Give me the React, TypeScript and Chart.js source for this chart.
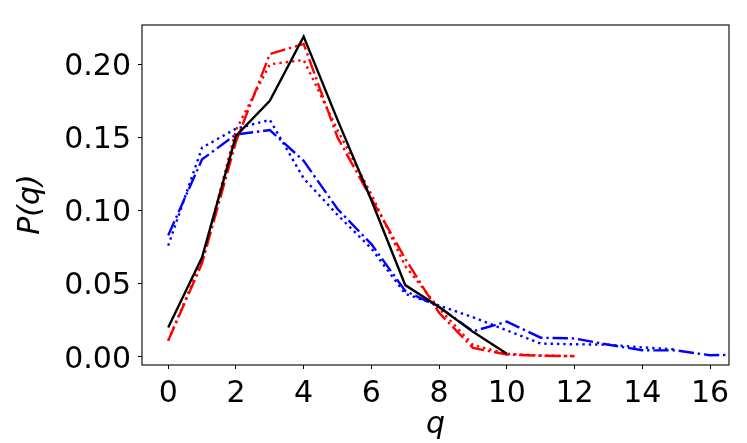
import React, { useEffect, useRef } from "react";
import { Chart, registerables } from "chart.js";

Chart.register(...registerables);

// q positions (integer counts)
const qAxis = [0, 1, 2, 3, 4, 5, 6, 7, 8, 9, 10, 11, 12, 13, 14, 15, 16, 17];

// P(q) series
const blackSolid = [0.020, 0.068, 0.151, 0.175, 0.219, 0.162, 0.107, 0.049, 0.034, 0.017, 0.002];
const redDashDot = [0.011, 0.064, 0.147, 0.207, 0.214, 0.150, 0.108, 0.067, 0.030, 0.006, 0.0015, 0.0007, 0.0004];
const redDotted = [0.011, 0.066, 0.155, 0.200, 0.203, 0.155, 0.111, 0.062, 0.033, 0.008, 0.002, 0.0008, 0.0004];
const blueDotted = [0.076, 0.143, 0.156, 0.162, 0.122, 0.097, 0.074, 0.043, 0.035, 0.027, 0.018, 0.009, 0.0085, 0.0082, 0.0064, 0.005];
const blueDashDot = [0.083, 0.135, 0.152, 0.155, 0.134, 0.101, 0.077, 0.045, 0.034, 0.0174, 0.024, 0.013, 0.0125, 0.0082, 0.0044, 0.0043, 0.001, 0.0015];

// tick labels
const xTickValues = [0, 2, 4, 6, 8, 10, 12, 14, 16];
const yTickValues = [0, 0.05, 0.1, 0.15, 0.2];

const xTitle = "q";
const yTitle = "P(q)";

const FONT = "'DejaVu Sans', 'Liberation Sans', sans-serif";

const toPoints = (ys: number[]) => ys.map((y, i) => ({ x: qAxis[i], y }));

const frame = {
  id: "frame",
  afterDraw(chart: any) {
    const { ctx, chartArea } = chart;
    ctx.save();
    ctx.strokeStyle = "#000";
    ctx.lineWidth = 1.1;
    ctx.strokeRect(chartArea.left, chartArea.top, chartArea.right - chartArea.left, chartArea.bottom - chartArea.top);
    ctx.restore();
  },
};

export default function App() {
  const ref = useRef<HTMLCanvasElement | null>(null);

  useEffect(() => {
    if (!ref.current) return;
    const LW = 2.4;
    const DASHDOT = [6.4 * LW, 1.6 * LW, 1 * LW, 1.6 * LW];
    const DOTTED = [1 * LW, 1.65 * LW];
    const common = { pointRadius: 0, borderWidth: LW, tension: 0, fill: false };
    const chart = new Chart(ref.current, {
      type: "line",
      data: {
        datasets: [
          { ...common, data: toPoints(blackSolid), borderColor: "#000000" },
          { ...common, data: toPoints(redDashDot), borderColor: "#ff0000", borderDash: DASHDOT },
          { ...common, data: toPoints(redDotted), borderColor: "#ff0000", borderDash: DOTTED },
          { ...common, data: toPoints(blueDotted), borderColor: "#0000ff", borderDash: DOTTED },
          { ...common, data: toPoints(blueDashDot), borderColor: "#0000ff", borderDash: DASHDOT },
        ],
      },
      options: {
        animation: false,
        responsive: false,
        devicePixelRatio: 1,
        layout: { padding: { left: 0, right: 18, top: 12, bottom: 0 } },
        plugins: { legend: { display: false }, tooltip: { enabled: false } },
        scales: {
          x: {
            type: "linear",
            min: -0.774,
            max: 16.56,
            afterBuildTicks: (s: any) => {
              s.ticks = xTickValues.map((v) => ({ value: v }));
            },
            afterFit: (s: any) => {
              s.height = 78;
            },
            ticks: {
              font: { family: FONT, size: 30 },
              color: "#000",
              padding: 7,
              maxRotation: 0,
              autoSkip: false,
              callback: (v: any) => String(v),
            },
            grid: { display: true, drawOnChartArea: false, drawTicks: true, tickLength: 4, color: "#000", lineWidth: 1 },
            border: { display: false },
            title: {
              display: true,
              text: xTitle,
              color: "#000",
              font: { family: FONT, size: 30, style: "italic", lineHeight: 1.2 },
              padding: { top: 0, bottom: 0 },
            },
          },
          y: {
            type: "linear",
            min: -0.00567,
            max: 0.2269,
            afterBuildTicks: (s: any) => {
              s.ticks = yTickValues.map((v) => ({ value: v }));
            },
            afterFit: (s: any) => {
              s.width = 142;
            },
            ticks: {
              font: { family: FONT, size: 30 },
              color: "#000",
              padding: 7,
              labelOffset: 3,
              autoSkip: false,
              callback: (v: any) => Number(v).toFixed(2),
            },
            grid: { display: true, drawOnChartArea: false, drawTicks: true, tickLength: 4, color: "#000", lineWidth: 1 },
            border: { display: false },
            title: {
              display: true,
              text: yTitle + "  ",
              color: "#000",
              font: { family: FONT, size: 30, style: "italic", lineHeight: 1.2 },
              padding: { top: 13, bottom: 0 },
            },
          },
        },
      },
      plugins: [frame],
    } as any);
    return () => chart.destroy();
  }, []);

  return (
    <div style={{ position: "absolute", left: 0, top: 0, width: 747, height: 443, background: "#fff" }}>
      <canvas ref={ref} width={747} height={443} style={{ display: "block" }} />
    </div>
  );
}
